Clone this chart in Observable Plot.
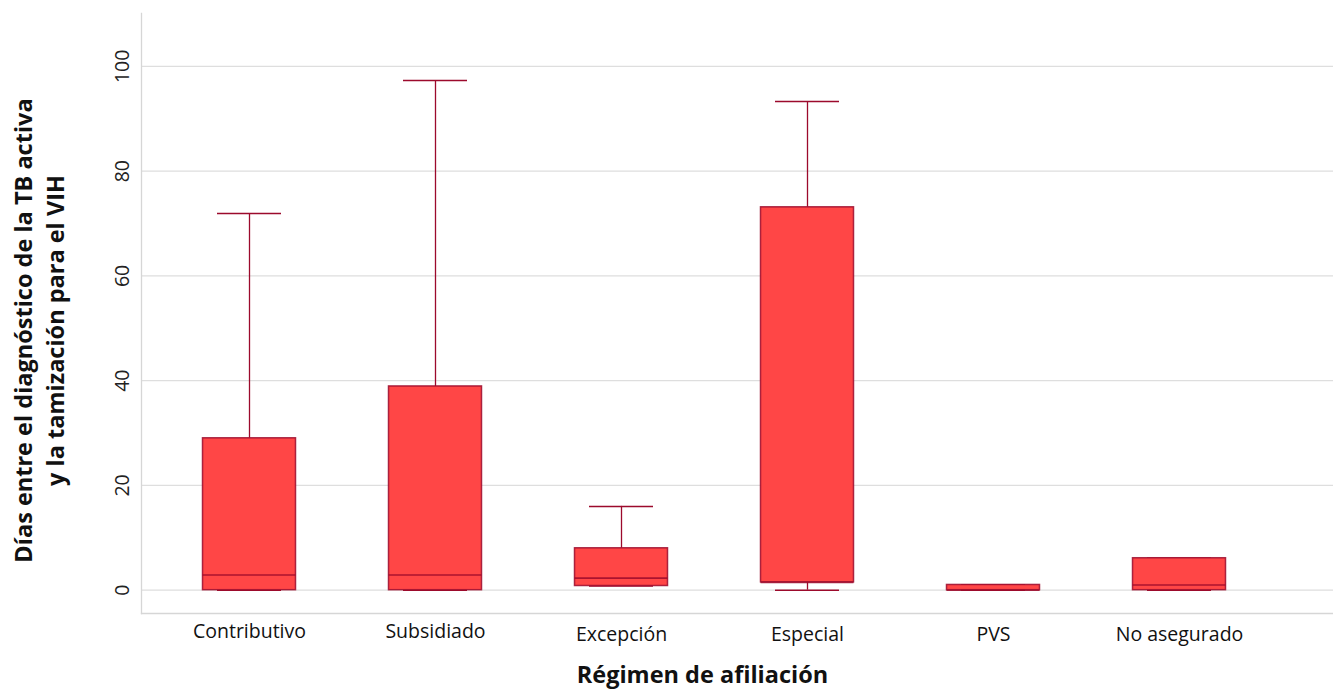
<!DOCTYPE html>
<html>
<head>
<meta charset="utf-8">
<script src="https://cdn.jsdelivr.net/npm/d3@7"></script>
<script src="https://cdn.jsdelivr.net/npm/@observablehq/plot@0.6"></script>
<style>
  html, body { margin: 0; padding: 0; background: #fff; }
  #chart svg { display: block; }
</style>
</head>
<body>
<div id="chart"></div>
<script>
const categorias = ["Contributivo", "Subsidiado", "Excepción", "Especial", "PVS", "No asegurado"];
const minimo  = [0,    0,    0.8, 0,    0,   0];
const q1      = [0,    0,    0.8, 1.5,  0,   0];
const mediana = [2.9,  2.9,  2.3, 1.5,  0,   1.0];
const q3      = [29,   38.9, 8.0, 73.1, 1.0, 6.1];
const maximo  = [71.9, 97.3, 16.0, 93.3, 1.0, 6.1];
const yTicks  = [0, 20, 40, 60, 80, 100];
const tituloY1 = "Días entre el diagnóstico de la TB activa";
const tituloY2 = "y la tamización para el VIH";
const tituloX = "Régimen de afiliación";

const filas = categorias.map((c, i) => ({
  regimen: c, lo: minimo[i], q1: q1[i], med: mediana[i], q3: q3[i], hi: maximo[i]
}));

const lineColor = "#9c0a2c";
const boxFill = "#ff4646";
const gridColor = "#dedede";
const font = "'Open Sans', Lato, sans-serif";

const chart = Plot.plot({
  width: 1333,
  height: 690,
  marginLeft: 141,
  marginRight: 0,
  marginTop: 13,
  marginBottom: 77,
  style: { fontFamily: font, background: "#fff" },
  x: { type: "band", domain: categorias, range: [156, 1272.6], padding: 0, axis: null },
  y: { domain: [-4.45, 110.1], axis: null },
  marks: [
    Plot.ruleY(yTicks, { stroke: gridColor, strokeWidth: 1.3 }),
    Plot.frame({ anchor: "bottom", stroke: "#d6d6d6", strokeWidth: 1.3 }),
    Plot.frame({ anchor: "left", stroke: "#d6d6d6", strokeWidth: 1.3 }),
    // whiskers
    Plot.ruleX(filas, { x: "regimen", y1: "q3", y2: "hi", stroke: lineColor, strokeWidth: 1.3 }),
    Plot.ruleX(filas, { x: "regimen", y1: "lo", y2: "q1", stroke: lineColor, strokeWidth: 1.3 }),
    Plot.tickY(filas, { x: "regimen", y: "hi", inset: 61, stroke: lineColor, strokeWidth: 1.5 }),
    Plot.tickY(filas, { x: "regimen", y: "lo", inset: 61, stroke: lineColor, strokeWidth: 1.5 }),
    // boxes
    Plot.barY(filas, { x: "regimen", y1: "q1", y2: "q3", fill: boxFill, stroke: lineColor, strokeOpacity: 0.85, strokeWidth: 1.5, insetLeft: 46.5, insetRight: 46.5 }),
    Plot.tickY(filas, { x: "regimen", y: "med", inset: 46.5, stroke: lineColor, strokeOpacity: 0.85, strokeWidth: 1.6 }),
    // y tick labels
    Plot.text(yTicks, { y: d => d, text: d => String(d), frameAnchor: "left", dx: -13, rotate: -90, textAnchor: "middle", lineAnchor: "bottom", fontSize: 19.5, fill: "#222" }),
    // x tick labels
    Plot.text(categorias, { x: d => d, text: d => d, frameAnchor: "bottom", dy: 11, lineAnchor: "top", textAnchor: "middle", fontSize: 19.5, fill: "#111", filter: (d, i) => i < 2 }),
    Plot.text(categorias, { x: d => d, text: d => d, frameAnchor: "bottom", dy: 14, lineAnchor: "top", textAnchor: "middle", fontSize: 19.5, fill: "#111", filter: (d, i) => i >= 2 }),
    // axis titles
    Plot.text([tituloY1], { text: d => d, frameAnchor: "left", dx: -110, dy: 17, rotate: -90, textAnchor: "middle", lineAnchor: "bottom", fontSize: 23.5, fontWeight: "bold", fill: "#111" }),
    Plot.text([tituloY2], { text: d => d, frameAnchor: "left", dx: -78, dy: 17, rotate: -90, textAnchor: "middle", lineAnchor: "bottom", fontSize: 23.5, fontWeight: "bold", fill: "#111" }),
    Plot.text([tituloX], { text: d => d, frameAnchor: "bottom", dx: -35, dy: 69, textAnchor: "middle", lineAnchor: "bottom", fontSize: 23.5, fontWeight: "bold", fill: "#111" })
  ]
});
document.getElementById("chart").appendChild(chart);
</script>
</body>
</html>
